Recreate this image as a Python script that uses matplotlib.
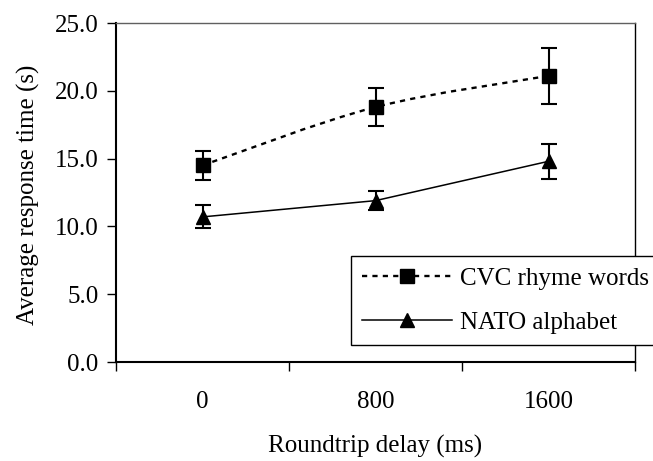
import numpy as np
import matplotlib
matplotlib.use('Agg')
import matplotlib.pyplot as plt
from matplotlib.path import Path
from matplotlib.patches import PathPatch
from matplotlib.ticker import FixedLocator, FormatStrFormatter

plt.rcParams['font.family'] = 'Liberation Serif'
plt.rcParams['font.size'] = 18

# data
delays = ['0', '800', '1600']
cvc_mean = [14.5, 18.8, 21.1]
cvc_err = [1.05, 1.4, 2.05]
nato_mean = [10.7, 11.9, 14.8]
nato_err = [0.85, 0.7, 1.3]

fig = plt.figure(figsize=(6.53, 4.61), dpi=100)
ax = fig.add_axes([116/653, 1 - 362/461, (635 - 116)/653, (362 - 23)/461])

x = np.arange(len(delays))

# smoothed dotted line for CVC (Excel-like bezier smoothing)
pts = np.column_stack([x, cvc_mean]).astype(float)
verts = [pts[0]]
codes = [Path.MOVETO]
n = len(pts)
for i in range(n - 1):
    p_prev = pts[max(i - 1, 0)]
    p0 = pts[i]
    p1 = pts[i + 1]
    p_next = pts[min(i + 2, n - 1)]
    c1 = p0 + (p1 - p_prev) / 6.0
    c2 = p1 - (p_next - p0) / 6.0
    verts += [c1, c2, p1]
    codes += [Path.CURVE4] * 3
cvc_dash = (0, (2.2, 2.2))
ax.add_patch(PathPatch(Path(verts, codes), fill=False, edgecolor='black',
                       lw=1.7, linestyle=cvc_dash, zorder=2))

ax.plot(x, nato_mean, color='black', lw=1.1, zorder=2)

ax.errorbar(x, cvc_mean, yerr=cvc_err, fmt='none', ecolor='black',
            elinewidth=1.5, capsize=5.8, capthick=1.5, zorder=3)
ax.errorbar(x, nato_mean, yerr=nato_err, fmt='none', ecolor='black',
            elinewidth=1.5, capsize=5.8, capthick=1.5, zorder=3)
ax.plot(x, cvc_mean, linestyle='none', marker='s', ms=10.5, color='black', zorder=4)
ax.plot(x, nato_mean, linestyle='none', marker='^', ms=10.5, color='black', zorder=4)

# legend handles
ax.plot([], [], color='black', lw=1.7, linestyle=cvc_dash, marker='s', ms=10.5,
        label='CVC rhyme words')
ax.plot([], [], color='black', lw=1.1, marker='^', ms=10.5, label='NATO alphabet')

ax.set_xlim(-0.5, 2.5)
ax.set_ylim(0, 25)
ax.yaxis.set_major_locator(FixedLocator([0, 5, 10, 15, 20, 25]))
ax.yaxis.set_major_formatter(FormatStrFormatter('%.1f'))
ax.set_xticks(x)
ax.set_xticklabels(delays)
ax.xaxis.set_minor_locator(FixedLocator([-0.5, 0.5, 1.5, 2.5]))
ax.tick_params(axis='x', which='major', length=0, pad=21)
ax.tick_params(axis='x', which='minor', length=6.5, width=1, direction='out')
ax.tick_params(axis='y', length=6.5, width=1, direction='out', pad=6)

for side in ['left', 'bottom']:
    ax.spines[side].set_linewidth(1.5)
    ax.spines[side].set_color('black')
ax.spines['top'].set_color('#606060')
ax.spines['top'].set_linewidth(1.0)
ax.spines['right'].set_color('black')
ax.spines['right'].set_linewidth(1.0)

ax.set_ylabel('Average response time (s)')
ax.yaxis.label.set_va('center')
ax.yaxis.set_label_coords((28 - 116) / 519, (362 - 195) / 339)
ax.set_xlabel('Roundtrip delay (ms)')
ax.xaxis.label.set_va('center')
ax.xaxis.set_label_coords(0.5, (362 - 446) / 339)

leg = ax.legend(loc='upper left', bbox_to_anchor=(351/653, 1 - 256/461),
                bbox_transform=fig.transFigure, numpoints=1, handlelength=3.6,
                handletextpad=0.3, labelspacing=0.85, borderpad=0.45,
                borderaxespad=0, fancybox=False, framealpha=1, edgecolor='black')
leg.get_frame().set_linewidth(1.0)

fig.savefig('out.png', dpi=100)
